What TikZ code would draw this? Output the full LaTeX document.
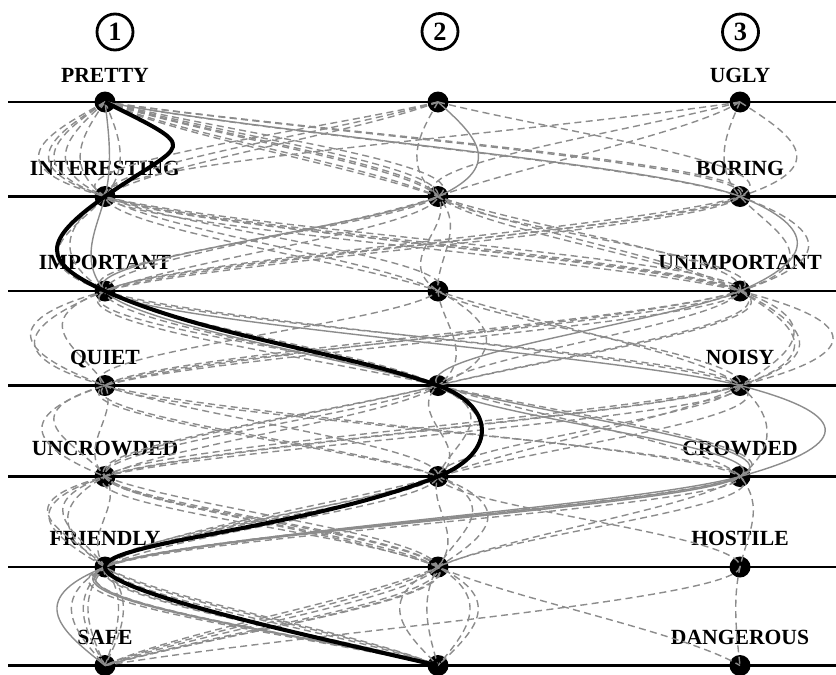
\documentclass[tikz,border=0pt]{standalone}
\usepackage{fontspec}
\setmainfont{Liberation Serif}
\usetikzlibrary{positioning}

% column positions of the three answers
\newcommand\colx[1]{\ifcase#1\or2.1\or8.76\or14.8\fi}
\newcommand\swing{0.21}

% one answer sheet: a smooth spline through the seven rows
\newcommand\tour[8][]{%
  \pgfmathsetmacro\xA{\colx{#2}}\pgfmathsetmacro\xB{\colx{#3}}%
  \pgfmathsetmacro\xC{\colx{#4}}\pgfmathsetmacro\xD{\colx{#5}}%
  \pgfmathsetmacro\xE{\colx{#6}}\pgfmathsetmacro\xF{\colx{#7}}%
  \pgfmathsetmacro\xG{\colx{#8}}%
  \pgfmathsetmacro\qA{1.5*(\xB-\xA)}%
  \pgfmathsetmacro\qB{(3*(\xC-\xA)-\qA)/3.5}%
  \pgfmathsetmacro\qC{(3*(\xD-\xB)-\qB)/3.714286}%
  \pgfmathsetmacro\qD{(3*(\xE-\xC)-\qC)/3.730769}%
  \pgfmathsetmacro\qE{(3*(\xF-\xD)-\qD)/3.731959}%
  \pgfmathsetmacro\qF{(3*(\xG-\xE)-\qE)/3.732044}%
  \pgfmathsetmacro\dG{(3*(\xG-\xF)-\qF)/1.732051}%
  \pgfmathsetmacro\dF{\qF-0.267949*\dG}%
  \pgfmathsetmacro\dE{\qE-0.267956*\dF}%
  \pgfmathsetmacro\dD{\qD-0.268041*\dE}%
  \pgfmathsetmacro\dC{\qC-0.269231*\dD}%
  \pgfmathsetmacro\dB{\qB-0.285714*\dC}%
  \pgfmathsetmacro\dA{\qA-0.5*\dB}%
  \pgfmathsetmacro\kA{\swing*\dA}\pgfmathsetmacro\kB{\swing*\dB}%
  \pgfmathsetmacro\kC{\swing*\dC}\pgfmathsetmacro\kD{\swing*\dD}%
  \pgfmathsetmacro\kE{\swing*\dE}\pgfmathsetmacro\kF{\swing*\dF}%
  \pgfmathsetmacro\nB{-\swing*\dB}\pgfmathsetmacro\nC{-\swing*\dC}%
  \pgfmathsetmacro\nD{-\swing*\dD}\pgfmathsetmacro\nE{-\swing*\dE}%
  \pgfmathsetmacro\nF{-\swing*\dF}\pgfmathsetmacro\nG{-\swing*\dG}%
  \draw[gline,#1] (p#2.center)
    .. controls +(\kA,-.63) and +(\nB,.63) .. (i#3.center)
    .. controls +(\kB,-.63) and +(\nC,.63) .. (m#4.center)
    .. controls +(\kC,-.63) and +(\nD,.61) .. (q#5.center)
    .. controls +(\kD,-.61) and +(\nE,.6) .. (u#6.center)
    .. controls +(\kE,-.6) and +(\nF,.66) .. (f#7.center)
    .. controls +(\kF,-.66) and +(\nG,.66) .. (s#8.center);%
}

\tikzset{
  dot/.style={circle,fill=black,inner sep=0pt,minimum size=0.42cm},
  word/.style={font=\bfseries\fontsize{12.3}{14}\selectfont,inner sep=0pt},
  num/.style={circle,draw,line width=1.6pt,minimum size=0.72cm,inner sep=0pt,
    font=\bfseries\fontsize{15}{17}\selectfont},
  rowline/.style={line width=1.3pt},
  gline/.style={black!45,dash pattern=on 4pt off 2.5pt,line width=0.8pt},
  pick/.style={line width=2.3pt}
}

\begin{document}
\begin{tikzpicture}
	\useasboundingbox (0,0) rectangle (16.72,-13.48);
	
	% rows
	\draw[rowline] (0.16,-2.04) -- (16.72,-2.04);
	\draw[rowline] (0.16,-3.93) -- (16.72,-3.93);
	\draw[rowline] (0.16,-5.82) -- (16.72,-5.82);
	\draw[rowline] (0.16,-7.71) -- (16.72,-7.71);
	\draw[rowline] (0.16,-9.53) -- (16.72,-9.53);
	\draw[rowline] (0.16,-11.34) -- (16.72,-11.34);
	\draw[rowline] (0.16,-13.31) -- (16.72,-13.31);
	
	% answers
	\node[dot] (p1) at (2.1,-2.04) {};
	\node[dot] (p2) at (8.76,-2.04) {};
	\node[dot] (p3) at (14.8,-2.04) {};
	\node[dot] (i1) at (2.1,-3.93) {};
	\node[dot] (i2) at (8.76,-3.93) {};
	\node[dot] (i3) at (14.8,-3.93) {};
	\node[dot] (m1) at (2.1,-5.82) {};
	\node[dot] (m2) at (8.76,-5.82) {};
	\node[dot] (m3) at (14.8,-5.82) {};
	\node[dot] (q1) at (2.1,-7.71) {};
	\node[dot] (q2) at (8.76,-7.71) {};
	\node[dot] (q3) at (14.8,-7.71) {};
	\node[dot] (u1) at (2.1,-9.53) {};
	\node[dot] (u2) at (8.76,-9.53) {};
	\node[dot] (u3) at (14.8,-9.53) {};
	\node[dot] (f1) at (2.1,-11.34) {};
	\node[dot] (f2) at (8.76,-11.34) {};
	\node[dot] (f3) at (14.8,-11.34) {};
	\node[dot] (s1) at (2.1,-13.31) {};
	\node[dot] (s2) at (8.76,-13.31) {};
	\node[dot] (s3) at (14.8,-13.31) {};
	
	% column numbers
	\node[num] (N1) at (2.3,-0.64) {1};
	\node[num] (N2) at (8.8,-0.63) {2};
	\node[num] (N3) at (14.81,-0.64) {3};
	
	% words
	\node[word,above=0.4cm of p1.center,anchor=base] (wp1) {PRETTY};
	\node[word,above=0.4cm of p3.center,anchor=base] (wp3) {UGLY};
	\node[word,above=0.43cm of i1.center,anchor=base] (wi1) {INTERESTING};
	\node[word,above=0.43cm of i3.center,anchor=base] (wi3) {BORING};
	\node[word,above=0.43cm of m1.center,anchor=base] (wm1) {IMPORTANT};
	\node[word,above=0.43cm of m3.center,anchor=base] (wm3) {UNIMPORTANT};
	\node[word,above=0.43cm of q1.center,anchor=base] (wq1) {QUIET};
	\node[word,above=0.43cm of q3.center,anchor=base] (wq3) {NOISY};
	\node[word,above=0.43cm of u1.center,anchor=base] (wu1) {UNCROWDED};
	\node[word,above=0.43cm of u3.center,anchor=base] (wu3) {CROWDED};
	\node[word,above=0.43cm of f1.center,anchor=base] (wf1) {FRIENDLY};
	\node[word,above=0.43cm of f3.center,anchor=base] (wf3) {HOSTILE};
	\node[word,above=0.43cm of s1.center,anchor=base] (ws1) {SAFE};
	\node[word,above=0.43cm of s3.center,anchor=base] (ws3) {DANGEROUS};
	
	% all the other answer sheets
	\tour{1}{1}{3}{3}{2}{1}{1}
	\tour{1}{2}{3}{2}{2}{1}{2}
	\tour{1}{3}{1}{1}{2}{1}{1}
	\tour[solid]{1}{1}{1}{2}{3}{1}{2}
	\tour{1}{2}{1}{3}{1}{1}{1}
	\tour{1}{1}{3}{2}{1}{2}{2}
	\tour{1}{3}{3}{1}{1}{2}{1}
	\tour{1}{2}{3}{3}{1}{1}{2}
	\tour{1}{1}{2}{1}{3}{1}{2}
	\tour{1}{3}{1}{2}{2}{2}{1}
	\tour{1}{1}{3}{1}{1}{1}{2}
	\tour{1}{2}{1}{1}{3}{2}{2}
	\tour{1}{1}{1}{3}{2}{1}{1}
	\tour[solid]{1}{3}{3}{2}{3}{1}{2}
	\tour[solid]{2}{2}{1}{3}{3}{1}{1}
	\tour{2}{1}{3}{2}{1}{2}{1}
	\tour{2}{1}{1}{2}{2}{1}{2}
	\tour{2}{3}{1}{1}{1}{2}{3}
	\tour{2}{2}{3}{3}{1}{1}{1}
	\tour{3}{3}{3}{1}{2}{2}{2}
	\tour{3}{1}{3}{3}{1}{2}{2}
	\tour{3}{2}{1}{2}{3}{3}{3}
	\tour{3}{3}{1}{2}{3}{1}{2}
	\tour{3}{2}{3}{1}{2}{2}{1}
	\tour{2}{1}{2}{3}{3}{2}{1}
	\tour{1}{2}{2}{2}{1}{1}{2}
	\tour{1}{1}{2}{2}{1}{2}{1}
	\tour{1}{2}{2}{3}{2}{3}{1}
	
	% the highlighted sheet
	\draw[pick] (p1.center)
	.. controls +(2,-1) and +(1.62,1.13) .. (i1.center)
	.. controls +(-1.28,-0.9) and +(-1.28,0.58) .. (m1.center)
	.. controls +(2,-0.9) and +(-2,0.7) .. (q2.center)
	.. controls +(1.1,-0.385) and +(1.24,0.5) .. (u2.center)
	.. controls +(-2.6,-1.04) and +(0,0.5) .. (f1.center)
	.. controls +(0,-0.5) and +(-2.6,0.6) .. (s2.center);
	
\end{tikzpicture}
\end{document}
